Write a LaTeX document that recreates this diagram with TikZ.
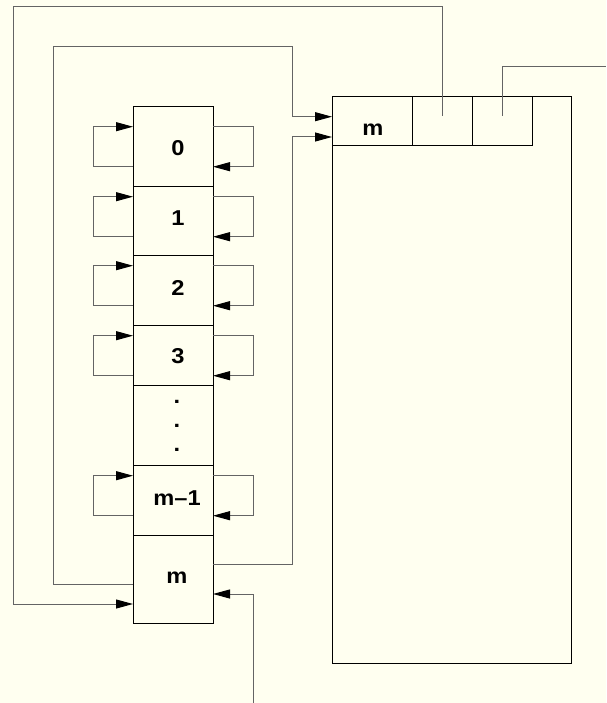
\documentclass[tikz,border=0pt]{standalone}
\usepackage{fontspec}
\setmainfont{Liberation Sans}
\newfontfamily\lblfont[FakeStretch=1.1]{Liberation Sans}
\usetikzlibrary{arrows.meta,calc}
\definecolor{bg}{RGB}{255,255,240}
\definecolor{conncol}{RGB}{100,100,100}
\begin{document}
\begin{tikzpicture}[x=1pt,y=-1pt,
  cellbox/.style={draw=black,line width=1pt,rectangle,anchor=north west,minimum width=80pt,inner sep=0pt,outer sep=0pt},
  hdrbox/.style={draw=black,line width=1pt,rectangle,anchor=north west,minimum height=49pt,inner sep=0pt,outer sep=0pt},
  lbl/.style={font=\lblfont\fontsize{21.5}{22}\selectfont\bfseries,inner sep=0pt},
  conn/.style={draw=conncol,line width=1pt},
  arr/.style={conn,-{Triangle[length=17pt,width=9pt,color=black]}}]
\fill[bg] (0,0) rectangle (606,703);
\useasboundingbox (0,0) rectangle (606,703);
% big box
\node[draw=black,line width=1pt,rectangle,anchor=north west,minimum width=239pt,minimum height=566pt,inner sep=0pt,outer sep=0pt] (big) at (332,97) {};
\node[hdrbox,minimum width=80pt] (hm) at (332,97) {};
\node[hdrbox,minimum width=60pt] (h2) at (412,97) {};
\node[hdrbox,minimum width=60pt] (h3) at (472,97) {};
\node[lbl] (lhm) at (373,130) {m};
% stack
\node[cellbox,minimum height=80pt] (c0) at (133,106.7) {};
\node[cellbox,minimum height=69pt] (c1) at (133,186.7) {};
\node[cellbox,minimum height=70pt] (c2) at (133,255.7) {};
\node[cellbox,minimum height=60pt] (c3) at (133,325.7) {};
\node[cellbox,minimum height=80pt] (cd) at (133,385.7) {};
\node[cellbox,minimum height=70pt] (cm1) at (133,465.7) {};
\node[cellbox,minimum height=88pt] (cm) at (133,535.7) {};
\node[lbl] (l0) at (178,148) {0};
\node[lbl] (l1) at (178,218) {1};
\node[lbl] (l2) at (178,288) {2};
\node[lbl] (l3) at (178,356) {3};
\node[lbl] (ld1) at (177,402) {.};
\node[lbl] (ld2) at (177,426) {.};
\node[lbl] (ld3) at (177,450) {.};
\node[lbl] (lm1) at (177,498) {m\textendash1};
\node[lbl] (lm) at (177,578) {m};
% self loops
\foreach \c/\a in {c0/20,c1/10,c2/10,c3/10,cm1/10}{
  \draw[arr] ($(\c.north west)+(0,\a+40)$) -- ++(-40,0) -- ++(0,-40) -- ($(\c.north west)+(0,\a)$);
  \draw[arr] ($(\c.north east)+(0,\a)$) -- ++(40,0) -- ++(0,40) -- ($(\c.north east)+(0,\a+40)$);
}
% long connectors
\coordinate (p1) at ($(h2.north)+(0,19)$);
\draw[arr] (p1) -- (h2.north |- 0,7) -- (13,7) -- (13,604) -- (cm.west |- 0,604);
\draw[arr] (cm.west |- 0,584) -- (53,584) -- (53,47) -- (292,47) -- (292,116.7) -- (hm.west |- 0,116.7);
\draw[arr] (cm.east |- 0,564) -- (292,564) -- (292,137) -- (hm.west |- 0,137);
\coordinate (bot) at (253,703);
\draw[arr] (bot) -- (253,594) -- (cm.east |- 0,594);
\coordinate (p2) at ($(h3.north)+(0,19)$);
\coordinate (rt) at (606,67);
\draw[conn] (p2) -- (h3.north |- 0,67) -- (rt);
\end{tikzpicture}
\end{document}
